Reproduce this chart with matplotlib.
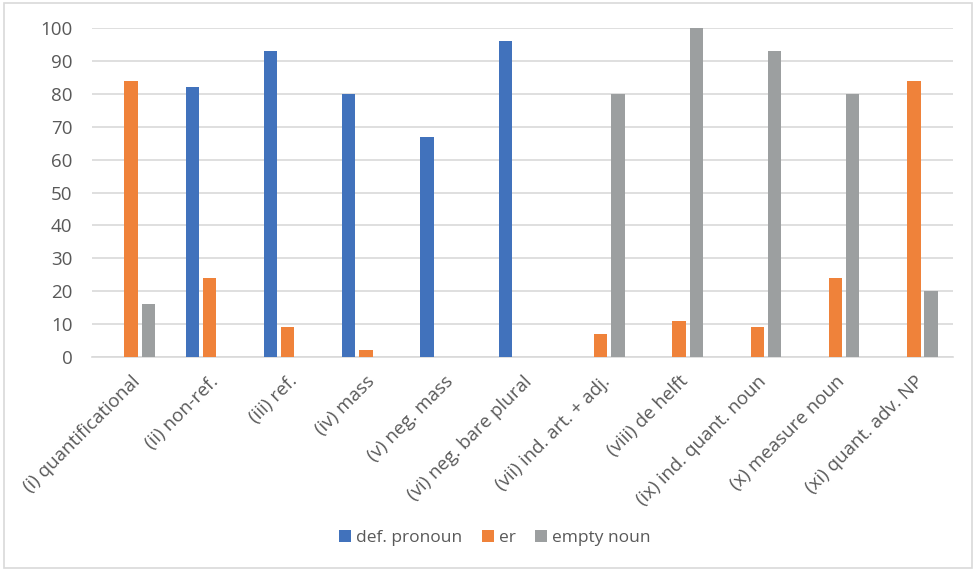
import numpy as np
import matplotlib.pyplot as plt
from matplotlib.patches import Rectangle

plt.rcParams['font.family'] = ['Open Sans', 'DejaVu Sans']

categories = ['(i) quantificational', '(ii) non-ref.', '(iii) ref.', '(iv) mass',
              '(v) neg. mass', '(vi) neg. bare plural', '(vii) ind. art. + adj.',
              '(viii) de helft', '(ix) ind. quant. noun', '(x) measure noun',
              '(xi) quant. adv. NP']
def_pronoun = [0, 82, 93, 80, 67, 96, 0, 0, 0, 0, 0]
er = [84, 24, 9, 2, 0, 0, 7, 11, 9, 24, 84]
empty_noun = [16, 0, 0, 0, 0, 0, 80, 100, 93, 80, 20]

series = [('def. pronoun', def_pronoun, '#4172BC'),
          ('er', er, '#EF823A'),
          ('empty noun', empty_noun, '#9C9FA0')]

txt = '#595959'
fig = plt.figure(figsize=(9.76, 5.71), dpi=100)
ax = fig.add_axes([92/976, 1 - 357/571, (953 - 92)/976, (357 - 28)/571])

x = np.arange(len(categories))
w = 0.17
step = 0.22
for k, (name, vals, col) in enumerate(series):
    vals = np.array(vals, dtype=float)
    mask = vals > 0
    ax.bar(x[mask] + (k - 1)*step, vals[mask], width=w, color=col, label=name, zorder=3)

ax.set_xlim(-0.5, len(categories) - 0.5)
ax.set_ylim(0, 100)
ax.set_yticks(range(0, 101, 10))
ax.set_xticks(x)
ax.set_xticklabels(categories, rotation=45, ha='right', rotation_mode='anchor',
                   fontsize=13.5, color=txt)
ax.tick_params(axis='y', labelsize=13.5, colors=txt, length=0, pad=14)
ax.tick_params(axis='x', length=0, pad=11)
ax.grid(axis='y', color='#D9D9D9', linewidth=1.2, zorder=0)
for s in ['left', 'right', 'top']:
    ax.spines[s].set_visible(False)
ax.spines['bottom'].set_color('#D9D9D9')
ax.spines['bottom'].set_linewidth(1.2)

fig.legend(loc='center', bbox_to_anchor=(495/976, 1 - 538/571), ncol=3, frameon=False,
           fontsize=12.5, handlelength=0.7, handleheight=0.7, handletextpad=0.3,
           columnspacing=1.1, labelcolor=txt)

# light frame around the chart area
fig.patches.append(Rectangle((4/976, 3/571), 968/976, 565/571, transform=fig.transFigure,
                             fill=False, edgecolor='#D9D9D9', linewidth=1.2))

fig.savefig('out.png', dpi=100, facecolor='white')
